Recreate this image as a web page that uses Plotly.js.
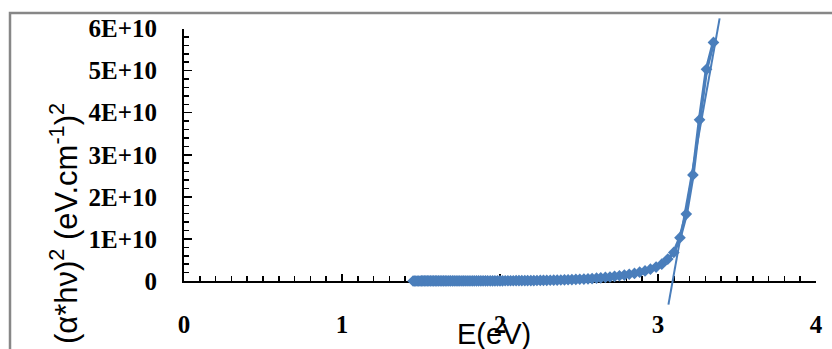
<!DOCTYPE html>
<html>
<head>
<meta charset="utf-8">
<script src="https://cdn.plot.ly/plotly-3.0.1.min.js"></script>
<style>html,body{margin:0;padding:0;background:#fff;}#chart{width:832px;height:349px;}</style>
</head>
<body>
<div id="chart"></div>
<script>
// Photon energy E (eV)
const energy = [3.351,3.307,3.263,3.221,3.179,3.139,3.100,3.062,3.024,2.988,
  2.952,2.918,2.884,2.851,2.818,2.787,2.756,2.725,2.696,2.667,
  2.638,2.611,2.583,2.557,2.531,2.505,2.480,2.455,2.431,2.408,
  2.385,2.362,2.340,2.318,2.296,2.275,2.255,2.234,2.214,2.195,
  2.175,2.157,2.138,2.120,2.102,2.084,2.067,2.050,2.033,2.016,
  2.000,1.984,1.968,1.953,1.938,1.922,1.908,1.893,1.879,1.865,
  1.851,1.837,1.824,1.810,1.797,1.784,1.771,1.759,1.746,1.734,
  1.722,1.710,1.699,1.687,1.676,1.664,1.653,1.642,1.632,1.621,
  1.610,1.600,1.590,1.580,1.570,1.560,1.550,1.540,1.531,1.521,
  1.512,1.503,1.494,1.485,1.476,1.467,1.459,1.450];
// (alpha*h*nu)^2 values
const alphaHv2 = [5.67e10,5.03e10,3.83e10,2.52e10,1.59e10,1.03e10,6.8e9,5.2e9,4.0e9,3.3e9,
  2.8e9,2.4e9,2.1e9,1.8e9,1.6e9,1.4e9,1.25e9,1.1e9,9.5e8,8.5e8,
  7.5e8,6.6e8,5.8e8,5.2e8,4.6e8,4.1e8,3.7e8,3.3e8,3.0e8,2.7e8,
  2.4e8,2.2e8,2.0e8,1.8e8,1.6e8,1.5e8,1.3e8,1.2e8,1.1e8,1.0e8,
  9.0e7,8.5e7,8.0e7,7.5e7,7.0e7,6.5e7,6.0e7,5.8e7,5.5e7,5.2e7,
  5.0e7,4.8e7,4.5e7,4.3e7,4.1e7,3.9e7,3.7e7,3.5e7,3.3e7,3.1e7,
  3.0e7,2.8e7,2.7e7,2.5e7,2.4e7,2.3e7,2.2e7,2.1e7,2.0e7,1.9e7,
  1.8e7,1.7e7,1.6e7,1.5e7,1.5e7,1.4e7,1.3e7,1.3e7,1.2e7,1.2e7,
  1.1e7,1.1e7,1.0e7,1.0e7,9.5e6,9.0e6,8.5e6,8.0e6,7.5e6,7.0e6,
  6.5e6,6.0e6,5.5e6,5.0e6,4.5e6,4.0e6,3.5e6,3.0e6];
// Linear extrapolation (Tauc fit) end points
const fitE = [3.066, 3.390];
const fitY = [-0.56e10, 6.24e10];
// Tick labels
const xTickVals = [0, 1, 2, 3, 4];
const xTickText = ['0', '1', '2', '3', '4'];
const yTickVals = [0, 1e10, 2e10, 3e10, 4e10, 5e10, 6e10];
const yTickText = ['0', '1E+10', '2E+10', '3E+10', '4E+10', '5E+10', '6E+10'];
const xTitle = 'E(eV)';
const yTitle = '(α*hν)<sup>2</sup> (eV.cm<sup>-1</sup>)<sup>2</sup>';

const W = 832, H = 349;
const M = {l: 184, r: 16, t: 5, b: 20};
const plotH = H - M.t - M.b, plotW = W - M.l - M.r;
const pyToPaper = py => 1 - (py - M.t) / plotH;
const pxToPaper = px => (px - M.l) / plotW;
const fTop = pyToPaper(28.5), fBot = pyToPaper(281);
const k = (fTop - fBot) / 6e10;
const y2Range = [-fBot / k, (1 - fBot) / k];

const blue = '#4A7EBB';
const tickFont = {family: 'Liberation Serif', size: 25, color: '#000', weight: 'bold'};

const traces = [
  {x: energy, y: alphaHv2, xaxis: 'x', yaxis: 'y', type: 'scatter', mode: 'lines+markers',
   line: {color: blue, width: 3.5}, marker: {symbol: 'diamond', size: 9, color: blue},
   cliponaxis: false, showlegend: false, hoverinfo: 'skip'},
  {x: fitE, y: fitY, xaxis: 'x', yaxis: 'y2', type: 'scatter', mode: 'lines',
   line: {color: blue, width: 2}, showlegend: false, hoverinfo: 'skip'}
];

const layout = {
  width: W, height: H,
  margin: M,
  paper_bgcolor: '#fff', plot_bgcolor: 'rgba(0,0,0,0)',
  showlegend: false,
  xaxis: {range: [0, 4], anchor: 'y', showgrid: false, zeroline: false,
    showline: true, linecolor: '#000', linewidth: 2, layer: 'below traces',
    tickmode: 'array', tickvals: xTickVals, ticktext: xTickText,
    ticks: 'inside', ticklen: 7, tickwidth: 1.5, tickcolor: '#000',
    minor: {dtick: 0.1, tick0: 0, ticks: 'inside', ticklen: 5, tickwidth: 1.5, tickcolor: '#000'},
    tickfont: tickFont, ticklabelstandoff: 20},
  yaxis: {range: [0, 6e10], domain: [fBot, fTop], anchor: 'x', showgrid: false, zeroline: false,
    showline: true, linecolor: '#000', linewidth: 2, layer: 'below traces',
    tickmode: 'array', tickvals: yTickVals, ticktext: yTickText,
    ticks: 'inside', ticklen: 8, tickwidth: 1.5, tickcolor: '#000',
    minor: {dtick: 2e9, tick0: 0, ticks: 'inside', ticklen: 5, tickwidth: 1.5, tickcolor: '#000'},
    tickfont: tickFont, ticklabelstandoff: 20},
  yaxis2: {range: y2Range, domain: [0, 1], anchor: 'x', visible: false,
    showgrid: false, zeroline: false, fixedrange: true},
  shapes: [
    {type: 'rect', xref: 'paper', yref: 'paper', x0: pxToPaper(10), x1: pxToPaper(900),
     y0: pyToPaper(420), y1: pyToPaper(13), line: {color: '#878787', width: 2.5}, layer: 'below'}
  ],
  annotations: [
    {text: yTitle, xref: 'paper', yref: 'paper', x: pxToPaper(64), y: pyToPaper(223),
     xanchor: 'center', yanchor: 'middle', textangle: -90, showarrow: false,
     font: {family: 'Liberation Sans', size: 31, color: '#000'}},
    {text: xTitle, xref: 'paper', yref: 'paper', x: pxToPaper(494), y: pyToPaper(334),
     xanchor: 'center', yanchor: 'middle', showarrow: false,
     font: {family: 'Liberation Sans', size: 29, color: '#000'}}
  ]
};

Plotly.newPlot('chart', traces, layout, {displayModeBar: false, staticPlot: true});
</script>
</body>
</html>
